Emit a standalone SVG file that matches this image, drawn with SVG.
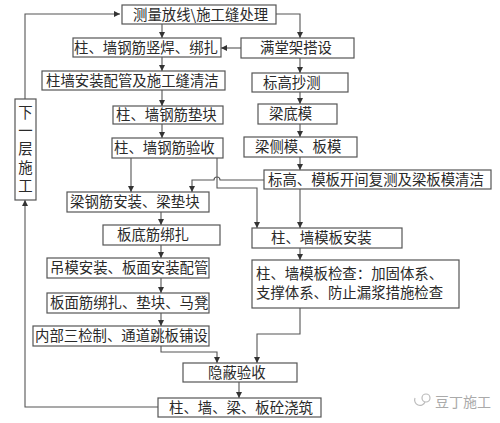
<svg xmlns="http://www.w3.org/2000/svg" width="500" height="423" viewBox="0 0 500 423">
<defs>
<marker id="ah" viewBox="0 0 8 8" refX="8" refY="4" markerWidth="6" markerHeight="6" orient="auto" markerUnits="userSpaceOnUse">
<path d="M0,0 L8,4 L0,8 z" fill="#333"/>
</marker>
</defs>
<style>
rect{fill:#fff;stroke:#555;stroke-width:1.2}
text{font-family:"Noto Sans CJK SC","Noto Sans",sans-serif;font-size:14.4px;fill:#2a2a2a}
.c{fill:none;stroke:#555;stroke-width:1.1}
.a{marker-end:url(#ah)}
.wm{fill:#aaa;font-size:14px}
.v{writing-mode:vertical-rl;letter-spacing:4px}
</style>
<rect x="0" y="0" width="500" height="423" style="fill:#fff;stroke:none"/>
<g id="connectors">
<path class="c a" d="M162,24 V38"/>
<path class="c a" d="M276,14 H300 V38"/>
<path class="c a" d="M241,48 H221"/>
<path class="c a" d="M162,57 V71"/>
<path class="c a" d="M162,90 V106"/>
<path class="c a" d="M162,124 V138"/>
<path class="c a" d="M131,158 V192"/>
<path class="c a" d="M217,158 V188 H257 V228"/>
<path class="c a" d="M264,180 H220 A3,3 0 0 0 214,180 H192 V192"/>
<path class="c a" d="M300,58 V73"/>
<path class="c a" d="M300,92 V104"/>
<path class="c a" d="M300,124 V137"/>
<path class="c a" d="M300,157 V170"/>
<path class="c a" d="M300,189 V228"/>
<path class="c a" d="M300,248 V260"/>
<path class="c a" d="M300,308 V334 H257 V363"/>
<path class="c a" d="M161,212 V225"/>
<path class="c a" d="M161,245 V258"/>
<path class="c a" d="M161,278 V293"/>
<path class="c a" d="M161,313 V326"/>
<path class="c a" d="M161,346 V352 H217 V363"/>
<path class="c a" d="M239,382 V398"/>
<path class="c a" d="M158,407 H25 V200"/>
<path class="c a" d="M25,99 V14 H120"/>
</g>
<g id="n1"><rect x="122" y="5" width="154" height="19"/><text x="133" y="20">测量放线\施工缝处理</text></g>
<g id="n2"><rect x="73" y="38" width="148" height="19"/><text x="74" y="53">柱、墙钢筋竖焊、绑扎</text></g>
<g id="n3"><rect x="241" y="38" width="113" height="20"/><text x="260" y="53">满堂架搭设</text></g>
<g id="n4"><rect x="42" y="71" width="183" height="19"/><text x="46" y="86">柱墙安装配管及施工缝清洁</text></g>
<g id="n5"><rect x="252" y="73" width="96" height="19"/><text x="263" y="88">标高抄测</text></g>
<g id="n6"><rect x="113" y="106" width="110" height="18"/><text x="116" y="120">柱、墙钢筋垫块</text></g>
<g id="n7"><rect x="258" y="104" width="79" height="20"/><text x="269" y="119">梁底模</text></g>
<g id="n8"><rect x="112" y="138" width="111" height="20"/><text x="114" y="153">柱、墙钢筋验收</text></g>
<g id="n9"><rect x="244" y="137" width="113" height="20"/><text x="255" y="152">梁侧模、板模</text></g>
<g id="n10"><rect x="264" y="170" width="227" height="19"/><text x="268" y="185">标高、模板开间复测及梁板模清洁</text></g>
<g id="n11"><rect x="67" y="192" width="142" height="20"/><text x="70" y="207">梁钢筋安装、梁垫块</text></g>
<g id="n12"><rect x="103" y="225" width="117" height="20"/><text x="117" y="240">板底筋绑扎</text></g>
<g id="n13"><rect x="252" y="228" width="150" height="20"/><text x="271" y="243">柱、墙模板安装</text></g>
<g id="n14"><rect x="47" y="258" width="162" height="20"/><text x="50" y="273">吊模安装、板面安装配管</text></g>
<g id="n15"><rect x="252" y="260" width="207" height="48"/><text x="256" y="279">柱、墙模板检查：加固体系、</text><text x="256" y="298">支撑体系、防止漏浆措施检查</text></g>
<g id="n16"><rect x="47" y="293" width="162" height="20"/><text x="50" y="308">板面筋绑扎、垫块、马凳</text></g>
<g id="n17"><rect x="33" y="326" width="176" height="20"/><text x="35" y="341">内部三检制、通道跳板铺设</text></g>
<g id="n18"><rect x="183" y="363" width="114" height="19"/><text x="208" y="378">隐蔽验收</text></g>
<g id="n19"><rect x="158" y="398" width="163" height="19"/><text x="169" y="413">柱、墙、梁、板砼浇筑</text></g>
<g id="n20"><rect x="15" y="99" width="21" height="101"/>
<text class="v" x="25.5" y="105">下一层施工</text>
</g>
<g id="watermark">
<path d="M415,398 a5,5 0 1 0 10,4" fill="none" stroke="#bbb" stroke-width="1.2"/>
<circle cx="426" cy="398" r="4" fill="none" stroke="#bbb" stroke-width="1.2"/>
<text class="wm" x="435" y="407">豆丁施工</text>
</g>
</svg>
